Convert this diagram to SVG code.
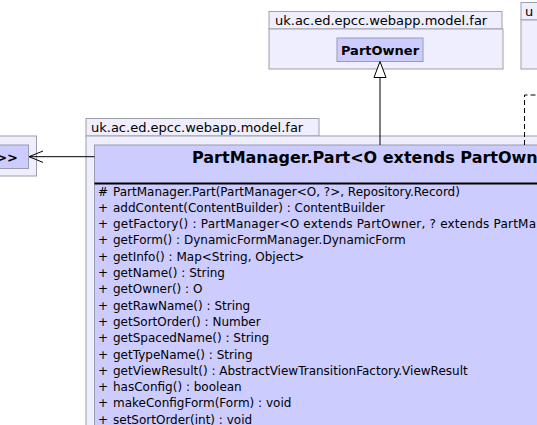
<svg xmlns="http://www.w3.org/2000/svg" width="537" height="425" viewBox="0 0 537 425">
<style>
.pkg{fill:#EEEEFF;stroke:#A0A0A8;stroke-width:1}
.cls{fill:#CCCCFF;stroke:#9A9AB0;stroke-width:1}
.plabel{font-family:"DejaVu Sans",sans-serif;font-size:13px;fill:#000}
.cname{font-family:"DejaVu Sans",sans-serif;font-weight:bold;fill:#000}
.mem{font-family:"DejaVu Sans",sans-serif;font-size:12px;fill:#000}
.edge{fill:none;stroke:#000;stroke-width:1}
</style>
<rect width="537" height="425" fill="#FFFFFF"/>
<g id="pkg-far-top">
<rect class="pkg" x="269" y="11.5" width="233" height="17.5"/>
<rect class="pkg" x="269" y="29" width="234" height="40"/>
<text class="plabel" x="275" y="25">uk.ac.ed.epcc.webapp.model.far</text>
</g>
<g id="node-PartOwner">
<rect class="cls" x="337" y="38" width="86" height="23.5"/>
<text class="cname" x="380" y="54.5" font-size="13px" text-anchor="middle">PartOwner</text>
</g>
<g id="pkg-right">
<rect class="pkg" x="521" y="2.5" width="30" height="17.5"/>
<rect class="pkg" x="521" y="20" width="30" height="49"/>
<text class="plabel" x="525" y="16">u</text>
</g>
<g id="pkg-left">
<rect class="pkg" x="-20" y="136" width="56.5" height="40"/>
<rect class="cls" x="-20" y="145" width="48.5" height="23.5"/>
<text class="cname" x="18" y="161.5" font-size="13px" text-anchor="end">&gt;&gt;</text>
</g>
<g id="pkg-far-main">
<rect class="pkg" x="86" y="118.5" width="233" height="17.5"/>
<rect class="pkg" x="86" y="136" width="470" height="300"/>
<text class="plabel" x="91" y="132">uk.ac.ed.epcc.webapp.model.far</text>
</g>
<g id="node-PartManager-Part">
<rect class="cls" x="94.5" y="145" width="460" height="290"/>
<line x1="94.5" y1="183.5" x2="555" y2="183.5" stroke="#000" stroke-width="2"/>
<text class="cname" x="192" y="163" font-size="16px">PartManager.Part&lt;O extends PartOwn</text>
<g class="mem">
<text x="98" y="195.5">#</text><text x="113" y="195.5">PartManager.Part(PartManager&lt;O, ?&gt;, Repository.Record)</text>
<text x="98" y="211.8">+</text><text x="113" y="211.8">addContent(ContentBuilder) : ContentBuilder</text>
<text x="98" y="228.1">+</text><text x="113" y="228.1" textLength="423" lengthAdjust="spacing">getFactory() : PartManager&lt;O extends PartOwner, ? extends PartMa</text>
<text x="98" y="244.4">+</text><text x="113" y="244.4">getForm() : DynamicFormManager.DynamicForm</text>
<text x="98" y="260.7">+</text><text x="113" y="260.7">getInfo() : Map&lt;String, Object&gt;</text>
<text x="98" y="277">+</text><text x="113" y="277">getName() : String</text>
<text x="98" y="293.3">+</text><text x="113" y="293.3">getOwner() : O</text>
<text x="98" y="309.6">+</text><text x="113" y="309.6">getRawName() : String</text>
<text x="98" y="325.9">+</text><text x="113" y="325.9">getSortOrder() : Number</text>
<text x="98" y="342.2">+</text><text x="113" y="342.2">getSpacedName() : String</text>
<text x="98" y="358.5">+</text><text x="113" y="358.5">getTypeName() : String</text>
<text x="98" y="374.8">+</text><text x="113" y="374.8">getViewResult() : AbstractViewTransitionFactory.ViewResult</text>
<text x="98" y="391.1">+</text><text x="113" y="391.1">hasConfig() : boolean</text>
<text x="98" y="407.4">+</text><text x="113" y="407.4">makeConfigForm(Form) : void</text>
<text x="98" y="423.7">+</text><text x="113" y="423.7">setSortOrder(int) : void</text>
</g>
</g>
<g id="connectors">
<line class="edge" x1="380" y1="145" x2="380" y2="77.5"/>
<polygon points="380,61.5 374,77.5 386,77.5" fill="#FFFFFF" stroke="#000" stroke-width="1"/>
<line class="edge" x1="94.5" y1="156.7" x2="29" y2="156.7"/>
<polyline class="edge" points="43,151 29,156.7 43,162.4"/>
<polyline class="edge" points="524.5,145 524.5,95 545,95" stroke-dasharray="5,3"/>
</g>
</svg>
